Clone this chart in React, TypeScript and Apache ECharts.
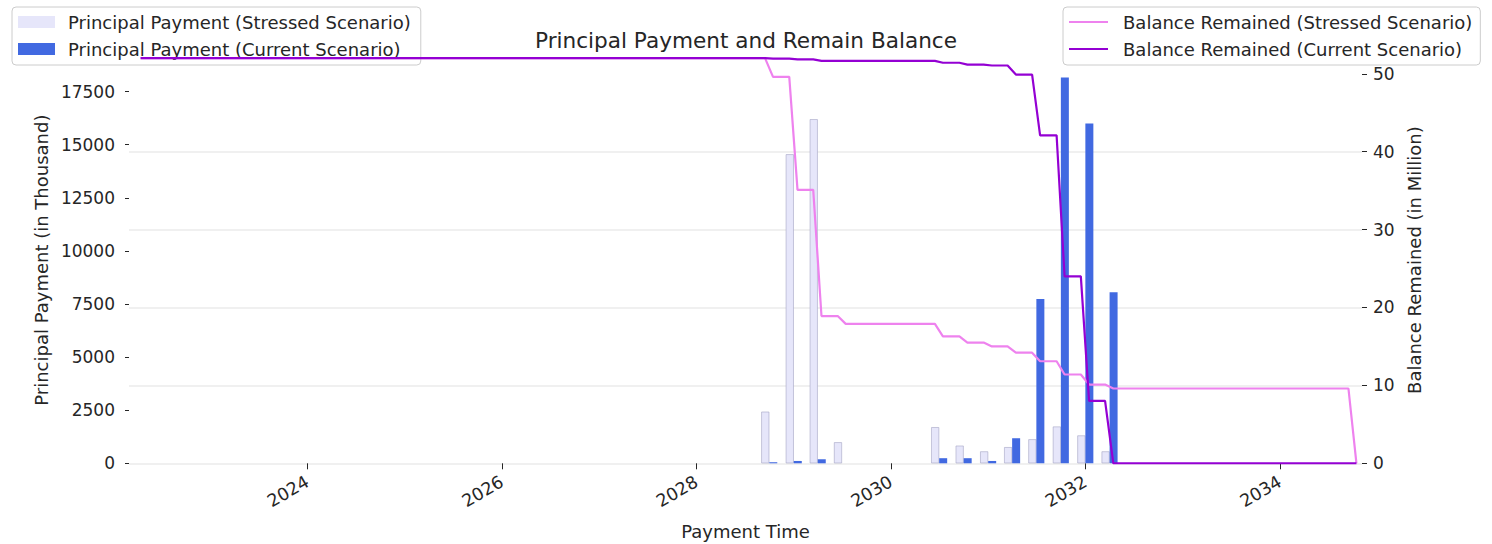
import React, { useEffect, useRef } from "react";
import * as echarts from "echarts";

// ---- data ----
const quarterDates = [
  "2028-10-01", "2029-01-01", "2029-04-01", "2029-07-01", "2029-10-01",
  "2030-01-01", "2030-04-01", "2030-07-01", "2030-10-01", "2031-01-01",
  "2031-04-01", "2031-07-01", "2031-10-01", "2032-01-01", "2032-04-01",
];
const stressedPayment = [2430, 14550, 16200, 990, 0, 0, 0, 1700, 830, 560, 760, 1130, 1730, 1310, 560];
const currentPayment = [50, 110, 190, 0, 0, 0, 0, 240, 240, 110, 1180, 7740, 18160, 16000, 8050];

const stressedBalanceDates = [
  "2022-04-15", "2028-09-15", "2028-10-15", "2028-12-15", "2029-01-15", "2029-03-15",
  "2029-04-15", "2029-06-15", "2029-07-15", "2030-06-15", "2030-07-15", "2030-09-15",
  "2030-10-15", "2030-12-15", "2031-01-15", "2031-03-15", "2031-04-15", "2031-06-15",
  "2031-07-15", "2031-09-15", "2031-10-15", "2031-12-15", "2032-01-15", "2032-03-15",
  "2032-04-15", "2034-09-15", "2034-10-15",
];
const stressedBalance = [
  52.0, 52.0, 49.6, 49.6, 35.1, 35.1,
  18.9, 18.9, 17.9, 17.9, 16.3, 16.3,
  15.5, 15.5, 15.0, 15.0, 14.2, 14.2,
  13.1, 13.1, 11.4, 11.4, 10.1, 10.1,
  9.6, 9.6, 0,
];

const currentBalanceDates = [
  "2022-04-15", "2028-09-15", "2028-10-15", "2028-12-15", "2029-01-15", "2029-03-15",
  "2029-04-15", "2030-06-15", "2030-07-15", "2030-09-15", "2030-10-15", "2030-12-15",
  "2031-01-15", "2031-03-15", "2031-04-15", "2031-06-15", "2031-07-15", "2031-09-15",
  "2031-10-15", "2031-12-15", "2032-01-15", "2032-03-15", "2032-04-15", "2034-10-15",
];
const currentBalance = [
  52.0, 52.0, 51.95, 51.95, 51.84, 51.84,
  51.65, 51.65, 51.41, 51.41, 51.17, 51.17,
  51.06, 51.06, 49.9, 49.9, 42.1, 42.1,
  24.0, 24.0, 8.0, 8.0, 0, 0,
];

const yearTicks = [2024, 2026, 2028, 2030, 2032, 2034];
const leftTicks = [0, 2500, 5000, 7500, 10000, 12500, 15000, 17500];
const rightTicks = [0, 10, 20, 30, 40, 50];

const NAME_SP = "Principal Payment (Stressed Scenario)";
const NAME_CP = "Principal Payment (Current Scenario)";
const NAME_SB = "Balance Remained (Stressed Scenario)";
const NAME_CB = "Balance Remained (Current Scenario)";

const FONT = "DejaVu Sans";
const INK = "#262626";

const ts = (d: string) => Date.parse(d + "T00:00:00Z");

export default function App() {
  const ref = useRef<HTMLDivElement>(null);

  useEffect(() => {
    if (!ref.current) return;
    const chart = echarts.init(ref.current, null, { renderer: "svg" });

    const barData = (vals: number[]) =>
      quarterDates.map((d, i) => [ts(d), vals[i] === 0 ? null : vals[i]]);
    const lineData = (dates: string[], vals: number[]) =>
      dates.map((d, i) => [ts(d), vals[i]]);
    const yearValues = yearTicks.map((y) => Date.UTC(y, 0, 1));

    const legendText = (pad: number) => ({
      fontFamily: FONT,
      fontSize: 18,
      color: INK,
      lineHeight: 18,
      padding: [0, 0, 0, pad],
    });

    chart.setOption({
      animation: false,
      backgroundColor: "#ffffff",
      title: {
        text: "Principal Payment and Remain Balance",
        left: "center",
        top: 29,
        padding: 0,
        textStyle: { fontFamily: FONT, fontSize: 21.6, fontWeight: "normal", color: INK },
      },
      legend: [
        {
          data: [NAME_SP, NAME_CP],
          left: 12,
          top: 7,
          orient: "vertical",
          icon: "rect",
          itemWidth: 37,
          itemHeight: 12,
          itemGap: 9,
          padding: [6, 10, 7, 6],
          backgroundColor: "rgba(255,255,255,0.8)",
          borderColor: "#cccccc",
          borderWidth: 1,
          borderRadius: 4,
          selectedMode: false,
          z: 1,
          itemStyle: { borderWidth: 0 },
          textStyle: legendText(8),
        },
        {
          data: [NAME_SB, NAME_CB],
          left: 1063,
          top: 7,
          orient: "vertical",
          icon: "rect",
          itemWidth: 39,
          itemHeight: 2,
          itemGap: 9,
          padding: [6, 8, 7, 6],
          backgroundColor: "rgba(255,255,255,0.8)",
          borderColor: "#cccccc",
          borderWidth: 1,
          borderRadius: 4,
          selectedMode: false,
          z: 5,
          textStyle: legendText(10),
        },
      ],
      grid: {
        left: 129,
        right: 130,
        top: 57,
        bottom: 80.7,
        containLabel: false,
        outerBoundsMode: "none",
      },
      xAxis: {
        type: "value",
        min: Date.parse("2022-03-02T10:00:00Z"),
        max: Date.parse("2034-11-04T22:00:00Z"),
        name: "Payment Time",
        nameLocation: "middle",
        nameGap: 59,
        nameTextStyle: { fontFamily: FONT, fontSize: 18, color: INK },
        axisLine: { show: false },
        axisTick: {
          show: true,
          length: 6,
          lineStyle: { color: INK, width: 1 },
          customValues: yearValues,
        },
        axisLabel: {
          rotate: 30,
          margin: 17,
          fontFamily: FONT,
          fontSize: 17.5,
          color: INK,
          customValues: yearValues,
          formatter: (v: number) => String(new Date(v).getUTCFullYear()),
        },
        splitLine: { show: false },
      },
      yAxis: [
        {
          type: "value",
          min: 0,
          max: 19130,
          interval: 2500,
          position: "left",
          name: "Principal Payment (in Thousand)",
          nameLocation: "middle",
          nameGap: 71,
          nameTextStyle: { fontFamily: FONT, fontSize: 18, color: INK },
          axisLine: { show: false },
          axisTick: {
            show: true,
            length: 4,
            lineStyle: { color: INK, width: 1 },
            customValues: leftTicks,
          },
          axisLabel: {
            margin: 14,
            fontFamily: FONT,
            fontSize: 17,
            color: INK,
            customValues: leftTicks,
            formatter: (v: number) => String(v),
          },
          splitLine: { show: false },
        },
        {
          type: "value",
          min: 0,
          max: 52.15,
          interval: 10,
          position: "right",
          name: "Balance Remained (in Million)",
          nameLocation: "middle",
          nameGap: 35,
          nameTextStyle: { fontFamily: FONT, fontSize: 18, color: INK },
          axisLine: { show: false },
          axisTick: {
            show: true,
            length: 5,
            lineStyle: { color: INK, width: 1 },
            customValues: rightTicks,
          },
          axisLabel: {
            margin: 11,
            fontFamily: FONT,
            fontSize: 17,
            color: INK,
            customValues: rightTicks,
            formatter: (v: number) => String(v),
          },
          splitLine: {
            show: true,
            showMaxLine: false,
            lineStyle: { color: "#ebebeb", width: 1.6 },
          },
        },
      ],
      series: [
        {
          name: NAME_SP,
          type: "bar",
          xAxisIndex: 0,
          yAxisIndex: 0,
          barWidth: 8,
          barGap: "0%",
          itemStyle: { color: "#E6E6FA", borderColor: "#a4a4c4", borderWidth: 0.6 },
          data: barData(stressedPayment),
          z: 2,
        },
        {
          name: NAME_CP,
          type: "bar",
          xAxisIndex: 0,
          yAxisIndex: 0,
          barWidth: 8,
          barGap: "0%",
          itemStyle: { color: "#4169E1" },
          data: barData(currentPayment),
          z: 2,
        },
        {
          name: NAME_SB,
          type: "line",
          xAxisIndex: 0,
          yAxisIndex: 1,
          symbol: "none",
          showSymbol: false,
          color: "#EE82EE",
          lineStyle: { color: "#EE82EE", width: 2.2 },
          data: lineData(stressedBalanceDates, stressedBalance),
          z: 3,
        },
        {
          name: NAME_CB,
          type: "line",
          xAxisIndex: 0,
          yAxisIndex: 1,
          symbol: "none",
          showSymbol: false,
          color: "#9400D3",
          lineStyle: { color: "#9400D3", width: 2.2 },
          data: lineData(currentBalanceDates, currentBalance),
          z: 3,
        },
      ],
    });

    return () => chart.dispose();
  }, []);

  return (
    <div
      ref={ref}
      style={{ position: "fixed", left: 0, top: 0, width: 1492, height: 544, background: "#fff" }}
    />
  );
}
